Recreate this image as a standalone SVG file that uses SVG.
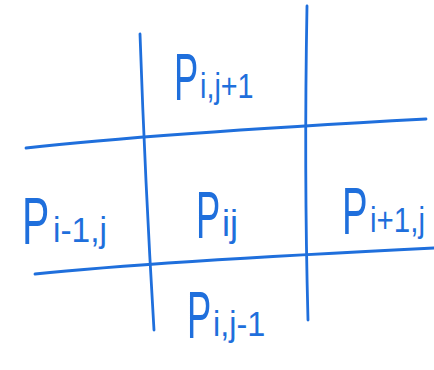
<svg xmlns="http://www.w3.org/2000/svg" width="434" height="370" viewBox="0 0 434 370">
<style>
.ln{fill:none;stroke:#1f6fdc;stroke-width:2.8;stroke-linecap:round}
.lb{font-family:"Liberation Sans",Arial,sans-serif;fill:#1f6fdc;font-size:66px}
.sb{font-family:"Liberation Sans",Arial,sans-serif;fill:#1f6fdc;font-size:36px}
</style>
<rect width="434" height="370" fill="#ffffff"/>
<g id="connectors">
<path class="ln" d="M140,34 Q145,180 154,330"/>
<path class="ln" d="M307,6 Q304,170 308,320"/>
<path class="ln" d="M26,148 Q150,134 426,119"/>
<path class="ln" d="M35,274 Q150,262 434,248"/>
</g>
<g id="p_i_jp1">
<text class="lb" transform="translate(174,100) scale(0.55,1)">P</text>
<text class="sb" transform="translate(200,98) scale(0.8,1)">i,j+1</text>
</g>
<g id="p_im1_j">
<text class="lb" transform="translate(22,244) scale(0.62,1)">P</text>
<text class="sb" transform="translate(53,242) scale(0.93,1)">i-1,j</text>
</g>
<g id="p_ij">
<text class="lb" transform="translate(196,238) scale(0.55,1)">P</text>
<text class="sb" transform="translate(222,236)">ij</text>
</g>
<g id="p_ip1_j">
<text class="lb" transform="translate(342,234) scale(0.58,1)">P</text>
<text class="sb" transform="translate(370,232) scale(0.82,1)">i+1,j</text>
</g>
<g id="p_i_jm1">
<text class="lb" transform="translate(187,338) scale(0.55,1)">P</text>
<text class="sb" transform="translate(213,336) scale(0.9,1)">i,j-1</text>
</g>
</svg>
